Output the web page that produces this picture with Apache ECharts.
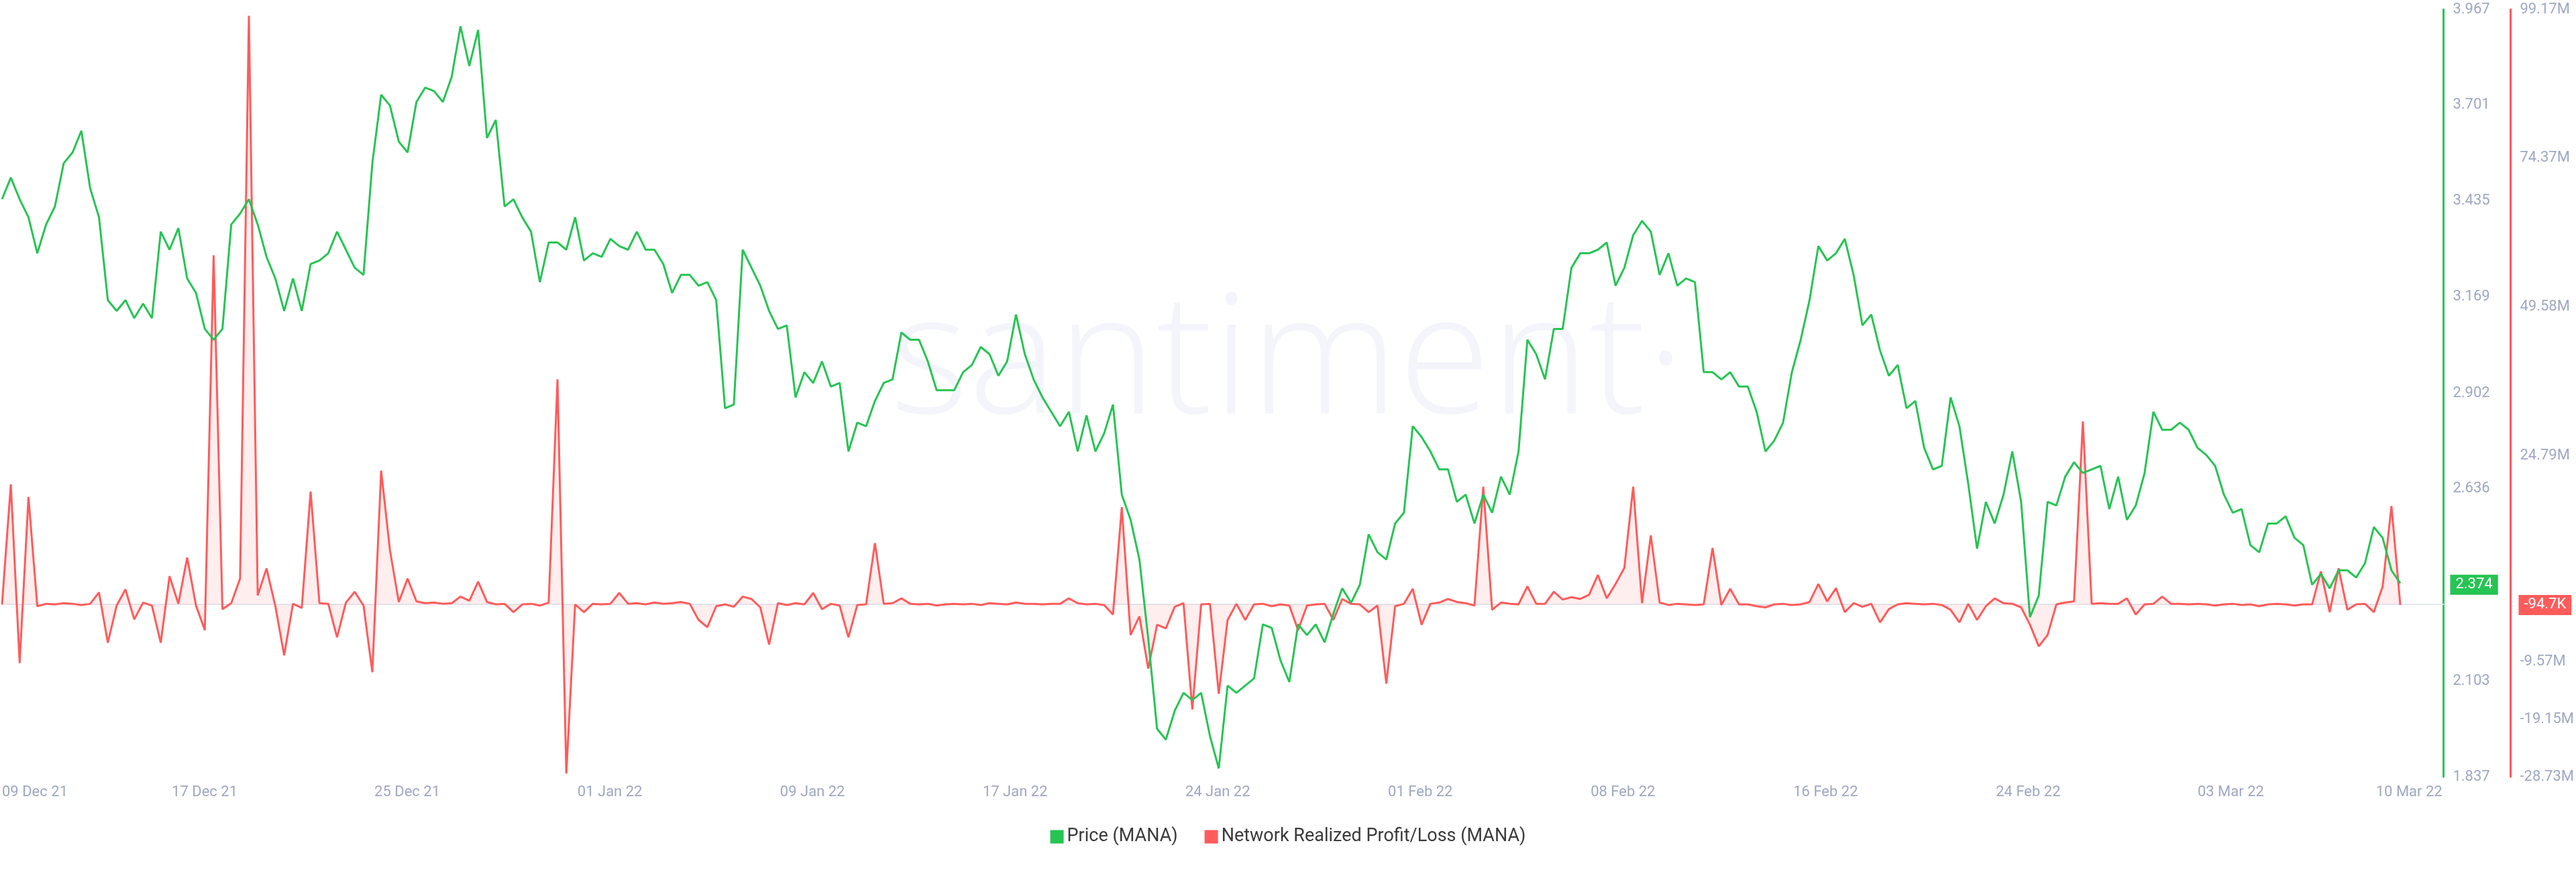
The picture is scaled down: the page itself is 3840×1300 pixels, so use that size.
<!DOCTYPE html>
<html>
<head>
<meta charset="utf-8">
<script src="https://cdn.jsdelivr.net/npm/echarts@6/dist/echarts.min.js"></script>
<style>
  html, body { margin: 0; padding: 0; background: #fff; }
  #chart { width: 3840px; height: 1300px; }
</style>
</head>
<body>
<div id="chart"></div>
<script>
// 8-hour samples; x is measured in days since 09 Dec 2021 00:00 UTC
var stepDays = 8 / 24;

var priceMana = [
  3.44, 3.50, 3.44, 3.39, 3.29, 3.37, 3.42, 3.54, 3.57, 3.63,
  3.47, 3.39, 3.16, 3.13, 3.16, 3.11, 3.15, 3.11, 3.35, 3.30,
  3.36, 3.22, 3.18, 3.08, 3.05, 3.08, 3.37, 3.40, 3.44, 3.37,
  3.28, 3.22, 3.13, 3.22, 3.13, 3.26, 3.27, 3.29, 3.35, 3.30,
  3.25, 3.23, 3.54, 3.73, 3.70, 3.60, 3.57, 3.71, 3.75, 3.74,
  3.71, 3.78, 3.92, 3.81, 3.91, 3.61, 3.66, 3.42, 3.44, 3.39,
  3.35, 3.21, 3.32, 3.32, 3.30, 3.39, 3.27, 3.29, 3.28, 3.33,
  3.31, 3.30, 3.35, 3.30, 3.30, 3.26, 3.18, 3.23, 3.23, 3.20,
  3.21, 3.16, 2.86, 2.87, 3.30, 3.25, 3.20, 3.13, 3.08, 3.09,
  2.89, 2.96, 2.93, 2.99, 2.92, 2.93, 2.74, 2.82, 2.81, 2.88,
  2.93, 2.94, 3.07, 3.05, 3.05, 2.99, 2.91, 2.91, 2.91, 2.96,
  2.98, 3.03, 3.01, 2.95, 2.99, 3.12, 3.01, 2.94, 2.89, 2.85,
  2.81, 2.85, 2.74, 2.84, 2.74, 2.79, 2.87, 2.62, 2.55, 2.44,
  2.22, 1.97, 1.94, 2.02, 2.07, 2.05, 2.07, 1.95, 1.86, 2.09,
  2.07, 2.09, 2.11, 2.26, 2.25, 2.16, 2.10, 2.26, 2.23, 2.26,
  2.21, 2.29, 2.36, 2.32, 2.37, 2.51, 2.46, 2.44, 2.54, 2.57,
  2.81, 2.78, 2.74, 2.69, 2.69, 2.60, 2.62, 2.54, 2.62, 2.57,
  2.67, 2.62, 2.74, 3.05, 3.01, 2.94, 3.08, 3.08, 3.25, 3.29,
  3.29, 3.30, 3.32, 3.20, 3.25, 3.34, 3.38, 3.35, 3.23, 3.29,
  3.20, 3.22, 3.21, 2.96, 2.96, 2.94, 2.96, 2.92, 2.92, 2.85,
  2.74, 2.77, 2.82, 2.96, 3.05, 3.16, 3.31, 3.27, 3.29, 3.33,
  3.23, 3.09, 3.12, 3.02, 2.95, 2.98, 2.86, 2.88, 2.75, 2.69,
  2.70, 2.89, 2.81, 2.65, 2.47, 2.60, 2.54, 2.62, 2.74, 2.60,
  2.28, 2.34, 2.60, 2.59, 2.67, 2.71, 2.68, 2.69, 2.70, 2.58,
  2.67, 2.55, 2.59, 2.68, 2.85, 2.80, 2.80, 2.82, 2.80, 2.75,
  2.73, 2.70, 2.62, 2.57, 2.58, 2.48, 2.46, 2.54, 2.54, 2.56,
  2.50, 2.48, 2.37, 2.40, 2.36, 2.41, 2.41, 2.39, 2.43, 2.53,
  2.50, 2.41, 2.374
];

// Network realized profit/loss, millions of MANA
var realizedPnl = [
  0.0, 20.0, -9.8, 17.9, -0.3, 0.1, 0.0, 0.2, 0.1, -0.1,
  0.1, 2.0, -6.4, -0.2, 2.5, -2.5, 0.3, -0.2, -6.4, 4.7,
  0.1, 7.8, -0.2, -4.3, 58.2, -0.8, 0.2, 4.3, 98.1, 1.5,
  6.0, -0.3, -8.5, 0.1, -0.6, 18.8, 0.2, 0.1, -5.5, 0.3,
  2.1, -0.2, -11.3, 22.3, 9.0, 0.4, 4.3, 0.5, 0.2, 0.3,
  0.1, 0.2, 1.3, 0.6, 3.8, 0.4, 0.0, 0.1, -1.3, 0.0,
  0.1, -0.2, 0.3, 37.5, -28.2, 0.0, -1.3, 0.1, 0.0, 0.1,
  1.9, 0.1, 0.2, 0.0, 0.3, 0.1, 0.2, 0.4, 0.1, -2.6,
  -3.8, -0.3, 0.0, -0.4, 1.3, 0.9, -0.5, -6.7, 0.2, -0.1,
  0.2, 0.0, 1.9, -0.8, 0.1, -0.2, -5.5, -0.1, 0.0, 10.2,
  0.1, 0.2, 1.0, 0.1, 0.0, 0.1, -0.2, 0.0, 0.1, 0.0,
  0.1, -0.1, 0.2, 0.1, 0.0, 0.3, 0.1, 0.1, 0.0, 0.1,
  0.1, 1.0, 0.2, 0.0, 0.1, -0.1, -1.7, 16.2, -5.1, -2.0,
  -10.7, -3.4, -4.0, -0.4, 0.2, -17.5, 0.0, 0.1, -14.9, -2.6,
  0.1, -2.6, 0.0, 0.1, -0.3, 0.0, -0.2, -4.3, -0.2, 0.0,
  0.1, -2.6, 0.9, 0.1, 0.0, -1.3, -0.2, -13.2, -0.3, 0.1,
  2.6, -3.4, 0.1, 0.3, 0.9, 0.4, 0.2, -0.2, 19.6, -0.9,
  0.3, 0.1, 0.0, 3.0, 0.1, 0.1, 2.1, 0.8, 1.2, 0.9,
  1.6, 4.9, 1.0, 3.4, 6.1, 19.6, 0.2, 11.5, 0.3, -0.1,
  0.1, 0.0, -0.1, 0.0, 9.4, -0.1, 2.6, 0.0, 0.0, -0.3,
  -0.5, 0.0, 0.1, -0.1, 0.0, 0.4, 3.4, 0.5, 2.7, -1.3,
  0.2, -0.4, 0.1, -3.0, -0.8, 0.0, 0.2, 0.1, 0.0, 0.1,
  -0.1, -0.9, -3.0, 0.1, -2.6, -0.3, 1.0, 0.2, 0.1, -0.5,
  -3.4, -7.0, -5.1, 0.0, 0.3, 0.5, 30.5, 0.1, 0.2, 0.1,
  0.1, 1.0, -1.7, 0.0, 0.1, 1.3, 0.1, 0.1, 0.0, 0.1,
  0.0, -0.2, 0.0, 0.1, -0.1, 0.0, -0.3, 0.0, 0.1, 0.0,
  -0.2, 0.0, 0.0, 5.5, -1.3, 6.0, -0.9, 0.0, 0.1, -1.3,
  3.0, 16.4, -0.095
];

var xTickLabels = ['09 Dec 21', '17 Dec 21', '25 Dec 21', '01 Jan 22', '09 Jan 22', '17 Jan 22',
  '24 Jan 22', '01 Feb 22', '08 Feb 22', '16 Feb 22', '24 Feb 22', '03 Mar 22', '10 Mar 22'];
var xTickDays = [0, 7.66, 15.32, 22.98, 30.64, 38.3, 45.96, 53.62, 61.28, 68.94, 76.6, 84.26, 91];

var priceTicks = [1.837, 2.103, 2.636, 2.902, 3.169, 3.435, 3.701, 3.967];
var pnlTicks = [-28.73, -19.15, -9.57, 24.79, 49.58, 74.37, 99.17];

var priceSeries = priceMana.map(function(v, i) { return [i * stepDays, v]; });
var pnlSeries = realizedPnl.map(function(v, i) { return [i * stepDays, v]; });

var labelColor = '#9ea8c2';
var green = '#26c453';
var red = '#ff5b5b';

function valueTag(value, text, color, distance) {
  return {
    silent: true,
    symbol: 'none',
    lineStyle: { color: 'transparent', width: 0 },
    data: [{ yAxis: value }],
    label: {
      show: true,
      position: 'end',
      distance: distance,
      formatter: text,
      color: '#fff',
      fontSize: 22,
      backgroundColor: color,
      padding: [4, 8]
    }
  };
}

var chart = echarts.init(document.getElementById('chart'));
chart.setOption({
  animation: false,
  textStyle: { fontFamily: 'Roboto, "Liberation Sans", sans-serif' },
  grid: { left: 0, right: 197, top: 14, bottom: 142, containLabel: false },
  graphic: [{
    type: 'text',
    left: 'center',
    top: 420,
    z: -1,
    style: {
      text: 'santiment·',
      fill: '#f3f5fb',
      font: '300 250px "Open Sans", sans-serif'
    }
  }],
  legend: {
    bottom: 34,
    left: 'center',
    itemWidth: 20,
    itemHeight: 20,
    itemGap: 40,
    icon: 'rect',
    textStyle: { color: '#3a3a3a', fontSize: 27 },
    data: [
      { name: 'Price (MANA)', itemStyle: { color: green } },
      { name: 'Network Realized Profit/Loss (MANA)', itemStyle: { color: red } }
    ]
  },
  xAxis: {
    type: 'value',
    min: 0,
    max: 92.3,
    axisLine: { lineStyle: { color: '#e3e8f1', width: 2 } },
    axisTick: { show: false },
    splitLine: { show: false },
    axisLabel: {
      customValues: xTickDays,
      color: labelColor,
      fontSize: 22,
      margin: 12,
      alignMinLabel: 'left',
      formatter: function(val) {
        var k = 0, best = Infinity;
        xTickDays.forEach(function(t, j) {
          var d = Math.abs(t - val);
          if (d < best) { best = d; k = j; }
        });
        return xTickLabels[k];
      }
    }
  },
  yAxis: [{
    type: 'value',
    position: 'right',
    min: 1.837,
    max: 3.967,
    axisLine: { show: true, onZero: false, lineStyle: { color: green, width: 3 } },
    axisTick: { show: false },
    splitLine: { show: false },
    axisLabel: {
      customValues: priceTicks,
      color: labelColor,
      fontSize: 22,
      margin: 14,
      formatter: function(v) { return v.toFixed(3); }
    }
  }, {
    type: 'value',
    position: 'right',
    offset: 100,
    min: -28.73,
    max: 99.17,
    axisLine: { show: true, onZero: false, lineStyle: { color: red, width: 3 } },
    axisTick: { show: false },
    splitLine: { show: false },
    axisLabel: {
      customValues: pnlTicks,
      color: labelColor,
      fontSize: 22,
      margin: 14,
      formatter: function(v) { return v.toFixed(2) + 'M'; }
    }
  }],
  series: [{
    name: 'Network Realized Profit/Loss (MANA)',
    type: 'line',
    yAxisIndex: 1,
    data: pnlSeries,
    showSymbol: false,
    lineStyle: { color: red, width: 3 },
    itemStyle: { color: red },
    areaStyle: { color: 'rgba(255,91,91,0.15)', origin: 0 },
    z: 2,
    markLine: valueTag(-0.095, '-94.7K', red, 112)
  }, {
    name: 'Price (MANA)',
    type: 'line',
    yAxisIndex: 0,
    data: priceSeries,
    showSymbol: false,
    lineStyle: { color: green, width: 3 },
    itemStyle: { color: green },
    z: 3,
    markLine: valueTag(2.374, '2.374', green, 10)
  }]
});
</script>
</body>
</html>
